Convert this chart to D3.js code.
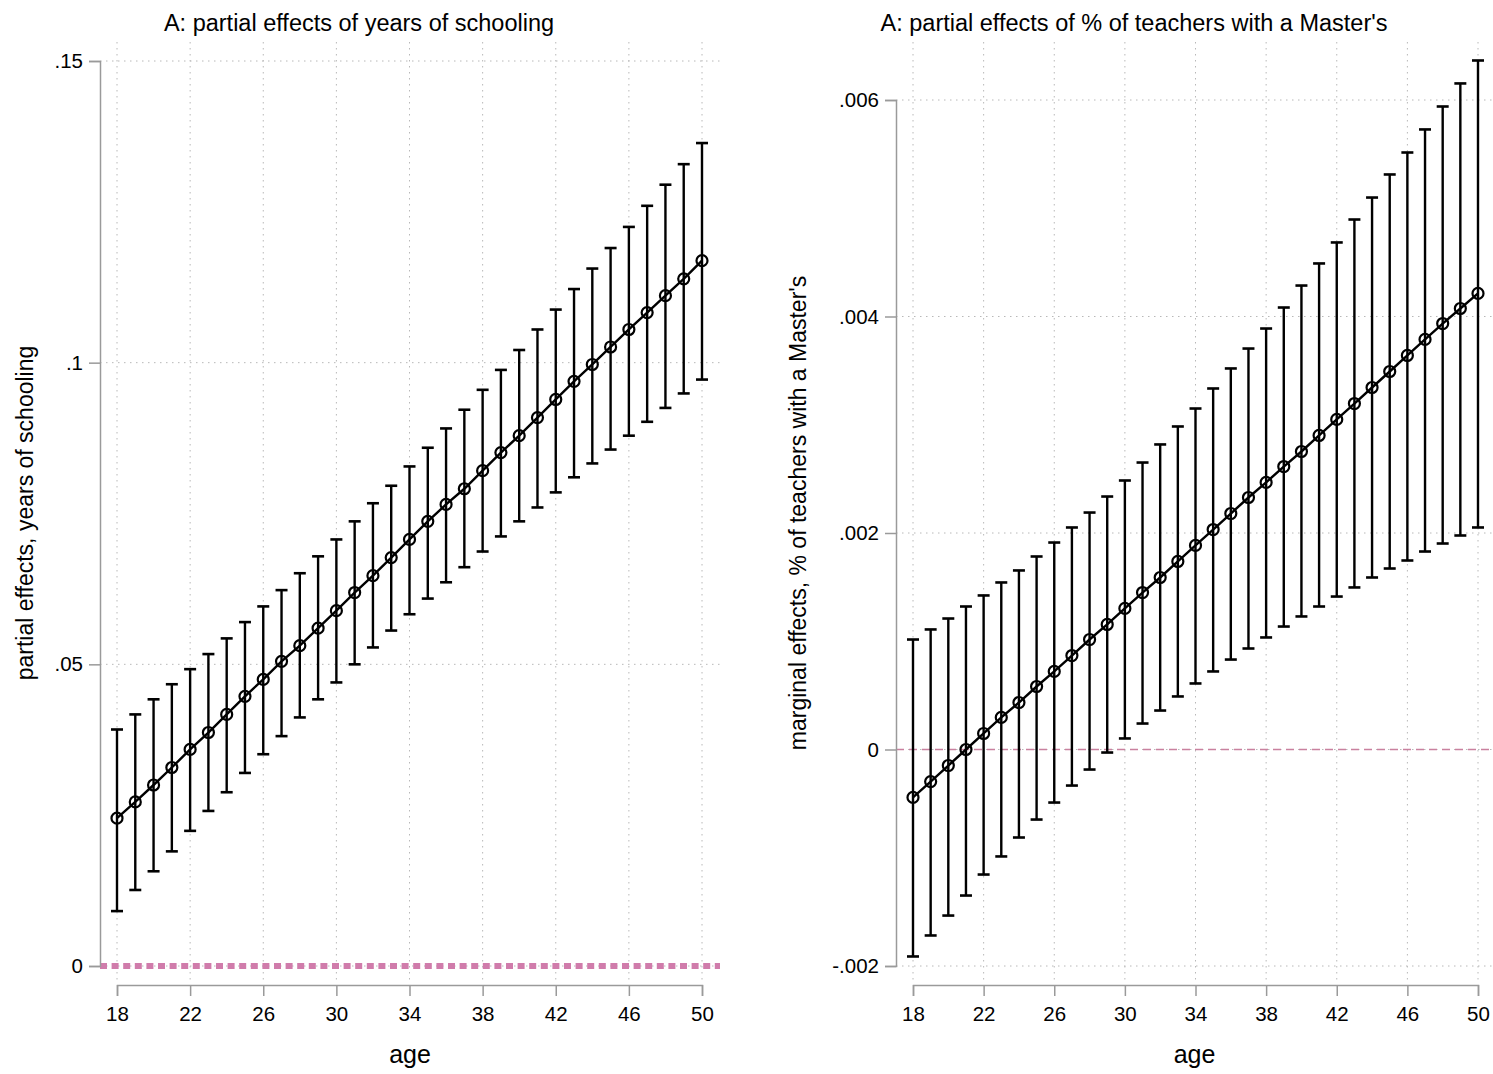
<!DOCTYPE html>
<html>
<head>
<meta charset="utf-8">
<script src="https://cdn.jsdelivr.net/npm/d3@7"></script>
<style>
  body { margin: 0; background: #fff; }
  text { font-family: "Liberation Sans", Arial, Helvetica, sans-serif; fill: #000; }
</style>
</head>
<body>
<div id="chart"></div>
<script>
// ages on the x axis
var ages = [18,19,20,21,22,23,24,25,26,27,28,29,30,31,32,33,34,35,36,37,38,39,40,41,42,43,44,45,46,47,48,49,50];

// panel 1: partial effects of years of schooling
var schEst = [0.0245,0.0272,0.0300,0.0329,0.0359,0.0387,0.0417,0.0447,0.0475,0.0505,0.0531,0.0560,0.0589,0.0619,0.0647,0.0677,0.0707,
              0.0737,0.0765,0.0791,0.0821,0.0851,0.0879,0.0909,0.0939,0.0969,0.0997,0.1026,0.1055,0.1083,0.1111,0.1139,0.1169];
var schHi  = [0.0392,0.0417,0.0442,0.0467,0.0492,0.0517,0.0543,0.0570,0.0596,0.0623,0.0651,0.0679,0.0707,0.0737,0.0767,0.0796,0.0828,
              0.0859,0.0891,0.0922,0.0955,0.0988,0.1021,0.1055,0.1088,0.1122,0.1156,0.1190,0.1225,0.1260,0.1295,0.1329,0.1364];
var schLo  = [0.0091,0.0126,0.0157,0.0190,0.0224,0.0257,0.0288,0.0320,0.0351,0.0381,0.0412,0.0442,0.0470,0.0500,0.0528,0.0556,0.0583,
              0.0609,0.0636,0.0661,0.0687,0.0712,0.0737,0.0760,0.0785,0.0810,0.0833,0.0856,0.0879,0.0902,0.0925,0.0949,0.0972];

// panel 2: marginal effects of % of teachers with a Master's
var mstEst = [-0.000443,-0.000296,-0.000148,0.000000,0.000148,0.000296,0.000434,0.000582,0.000721,0.000868,0.001016,0.001155,0.001303,
              0.001450,0.001589,0.001737,0.001885,0.002032,0.002180,0.002328,0.002467,0.002614,0.002753,0.002901,0.003049,0.003196,
              0.003344,0.003492,0.003640,0.003788,0.003935,0.004074,0.004213];
var mstHi  = [0.001016,0.001109,0.001210,0.001321,0.001423,0.001543,0.001654,0.001783,0.001912,0.002051,0.002189,0.002337,0.002485,
              0.002651,0.002818,0.002984,0.003150,0.003335,0.003520,0.003704,0.003889,0.004083,0.004286,0.004490,0.004684,0.004896,
              0.005099,0.005312,0.005515,0.005728,0.005940,0.006153,0.006365];
var mstLo  = [-0.001912,-0.001718,-0.001534,-0.001349,-0.001155,-0.000988,-0.000813,-0.000647,-0.000490,-0.000333,-0.000185,-0.000028,
              0.000102,0.000240,0.000360,0.000490,0.000610,0.000721,0.000831,0.000933,0.001035,0.001136,0.001229,0.001321,0.001413,
              0.001497,0.001589,0.001672,0.001746,0.001829,0.001903,0.001977,0.002051];

// tick values and labels
var xTicks = [18,22,26,30,34,38,42,46,50];
var schTicks = [0, 0.05, 0.1, 0.15];
var schTickLabels = ["0", ".05", ".1", ".15"];
var mstTicks = [-0.002, 0, 0.002, 0.004, 0.006];
var mstTickLabels = ["-.002", "0", ".002", ".004", ".006"];

var W = 1493, H = 1074;
var svg = d3.select("#chart").append("svg")
    .attr("width", W)
    .attr("height", H);

var axisColor = "#9a9a9a", gridColor = "#b8b8b8";

function panel(opt) {
  // x scale: 18..50 mapped to the pixel range of the panel
  var x = d3.scaleLinear().domain([18, 50]).range([opt.x18, opt.x50]);
  var y = d3.scaleLinear().domain(opt.yDomain).range(opt.yRange);

  var g = svg.append("g");

  // title
  g.append("text")
    .attr("x", opt.titleX).attr("y", 31)
    .attr("text-anchor", "middle")
    .style("font-size", "23.5px")
    .text(opt.title);

  // vertical grid lines
  g.selectAll(".vgrid").data(xTicks).enter().append("line")
    .attr("x1", function(d) { return x(d); })
    .attr("x2", function(d) { return x(d); })
    .attr("y1", 42).attr("y2", 980)
    .attr("stroke", gridColor).attr("stroke-width", 1)
    .attr("stroke-dasharray", "1.5,4.5");

  // horizontal grid lines
  g.selectAll(".hgrid").data(opt.yTicks).enter().append("line")
    .attr("x1", opt.left).attr("x2", opt.right)
    .attr("y1", function(d) { return y(d); })
    .attr("y2", function(d) { return y(d); })
    .attr("stroke", gridColor).attr("stroke-width", 1)
    .attr("stroke-dasharray", "1.5,4.5");

  // reference line at zero
  g.append("line")
    .attr("x1", opt.left).attr("x2", opt.right)
    .attr("y1", y(0)).attr("y2", y(0))
    .attr("stroke", opt.zeroColor)
    .attr("stroke-width", opt.zeroWidth)
    .attr("stroke-dasharray", opt.zeroDash);

  // y axis
  var yAxis = d3.axisLeft(y).tickValues(opt.yTicks)
    .tickFormat(function(d, i) { return opt.yLabels[i]; })
    .tickSize(11).tickPadding(6);
  var yAxisG = g.append("g")
    .attr("transform", "translate(" + opt.left + ",0)")
    .call(yAxis);
  yAxisG.select(".domain").attr("stroke", axisColor).attr("stroke-width", 1.5);
  yAxisG.selectAll(".tick line").attr("stroke", axisColor).attr("stroke-width", 1.5);
  yAxisG.selectAll(".tick text")
    .style("font-size", "20.5px").style("font-family", "Liberation Sans, Arial, sans-serif").attr("fill", "#000");

  // x axis
  var xAxis = d3.axisBottom(x).tickValues(xTicks).tickSize(11).tickPadding(10);
  var xAxisG = g.append("g")
    .attr("transform", "translate(0,985)")
    .call(xAxis);
  xAxisG.select(".domain").attr("stroke", axisColor).attr("stroke-width", 1.5);
  xAxisG.selectAll(".tick line").attr("stroke", axisColor).attr("stroke-width", 1.5);
  xAxisG.selectAll(".tick text")
    .style("font-size", "20.5px").style("font-family", "Liberation Sans, Arial, sans-serif").attr("fill", "#000");

  // axis titles
  g.append("text")
    .attr("x", (opt.left + opt.right) / 2).attr("y", 1063)
    .attr("text-anchor", "middle")
    .style("font-size", "25px")
    .text("age");

  g.append("text")
    .attr("transform", "translate(" + opt.yTitleX + ",513) rotate(-90)")
    .attr("text-anchor", "middle")
    .style("font-size", "23px")
    .text(opt.yTitle);

  // error bars
  var bars = g.selectAll(".bar").data(ages).enter().append("g");
  bars.append("line")
    .attr("x1", function(d) { return x(d); })
    .attr("x2", function(d) { return x(d); })
    .attr("y1", function(d, i) { return y(opt.lo[i]); })
    .attr("y2", function(d, i) { return y(opt.hi[i]); })
    .attr("stroke", "#000").attr("stroke-width", 2.4);
  bars.append("line")
    .attr("x1", function(d) { return x(d) - 6; })
    .attr("x2", function(d) { return x(d) + 6; })
    .attr("y1", function(d, i) { return y(opt.hi[i]); })
    .attr("y2", function(d, i) { return y(opt.hi[i]); })
    .attr("stroke", "#000").attr("stroke-width", 2.6);
  bars.append("line")
    .attr("x1", function(d) { return x(d) - 6; })
    .attr("x2", function(d) { return x(d) + 6; })
    .attr("y1", function(d, i) { return y(opt.lo[i]); })
    .attr("y2", function(d, i) { return y(opt.lo[i]); })
    .attr("stroke", "#000").attr("stroke-width", 2.6);

  // connecting line
  var line = d3.line()
    .x(function(d) { return x(d); })
    .y(function(d, i) { return y(opt.est[i]); });
  g.append("path")
    .datum(ages)
    .attr("d", line)
    .attr("fill", "none")
    .attr("stroke", "#000")
    .attr("stroke-width", 2.4);

  // hollow markers
  g.selectAll(".pt").data(ages).enter().append("circle")
    .attr("cx", function(d) { return x(d); })
    .attr("cy", function(d, i) { return y(opt.est[i]); })
    .attr("r", 5.5)
    .attr("fill", "none")
    .attr("stroke", "#000")
    .attr("stroke-width", 2.2);
}

panel({
  title: "A: partial effects of years of schooling",
  titleX: 359,
  yTitle: "partial effects, years of schooling",
  yTitleX: 33,
  left: 100, right: 720,
  x18: 117, x50: 702,
  yDomain: [0, 0.15], yRange: [966, 61],
  yTicks: schTicks, yLabels: schTickLabels,
  est: schEst, lo: schLo, hi: schHi,
  zeroColor: "#d07cab", zeroWidth: 6, zeroDash: "7,4.6"
});

panel({
  title: "A: partial effects of % of teachers with a Master's",
  titleX: 1134,
  yTitle: "marginal effects, % of teachers with a Master's",
  yTitleX: 806,
  left: 896, right: 1493,
  x18: 913, x50: 1478,
  yDomain: [-0.002, 0.006], yRange: [966, 100],
  yTicks: mstTicks, yLabels: mstTickLabels,
  est: mstEst, lo: mstLo, hi: mstHi,
  zeroColor: "#c9819f", zeroWidth: 1.5, zeroDash: "8,5"
});
</script>
</body>
</html>
